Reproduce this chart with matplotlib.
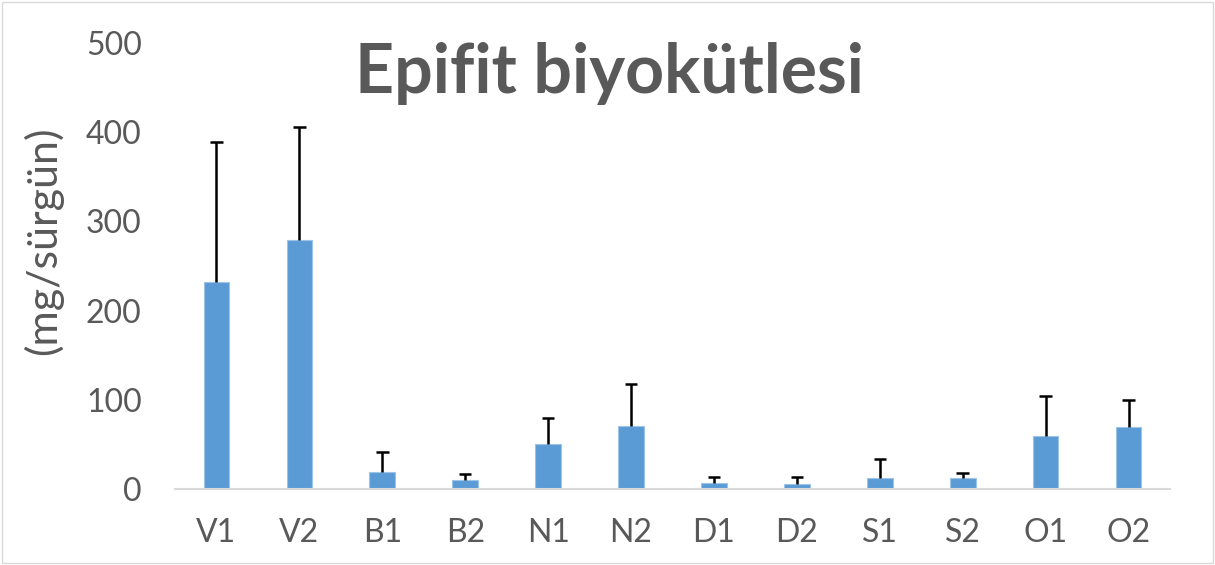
import matplotlib
matplotlib.use("Agg")
import matplotlib.pyplot as plt
import numpy as np

categories = ["V1", "V2", "B1", "B2", "N1", "N2", "D1", "D2", "S1", "S2", "O1", "O2"]
values = [232, 279, 19, 10, 50, 71, 7, 6, 12, 12, 59, 69]
errors = [157, 127, 23, 7, 30, 47, 6, 8, 22, 6, 45, 31]
yticks = [0, 100, 200, 300, 400, 500]

plt.rcParams['font.family'] = ['Lato', 'DejaVu Sans']
gray = '#595959'

fig = plt.figure(figsize=(12.15, 5.65), dpi=100)
ax = fig.add_axes([175/1215, 1-489/565, (1170-175)/1215, (489-43)/565])
x = np.arange(len(categories))
vals = np.array(values, dtype=float)
errs = np.array(errors, dtype=float)
ax.bar(x, vals, width=0.31, color='#5B9BD5', edgecolor='#9DC3E6', linewidth=0.8, zorder=2)
ax.vlines(x, vals, vals + errs, colors='black', linewidth=1.8, zorder=3)
ax.hlines(vals + errs, x - 0.075, x + 0.075, colors='black', linewidth=1.8, zorder=3)
ax.set_xlim(-0.5, len(categories)-0.5)
ax.set_ylim(0, 500)
ax.set_yticks(yticks)
ax.set_xticks(x)
ax.set_xticklabels(categories)
for s in ['top', 'right', 'left']:
    ax.spines[s].set_visible(False)
ax.spines['bottom'].set_color('#D9D9D9')
ax.spines['bottom'].set_linewidth(1.5)
ax.tick_params(axis='both', length=0, labelsize=23, colors=gray)
ax.tick_params(axis='x', pad=21)
ax.tick_params(axis='y', pad=24)
ax.set_ylabel('(mg/sürgün)', fontsize=31, color=gray)
ax.yaxis.set_label_coords(-0.112, 0.556)
fig.text(0.502, 1-73/565, 'Epifit biyokütlesi', ha='center', va='center',
         fontsize=49, fontweight='bold', color=gray)
fig.patches.append(plt.Rectangle((0.002, 0.003), 0.996, 0.994, transform=fig.transFigure,
                                 fill=False, edgecolor='#D9D9D9', linewidth=1))
fig.savefig('out.png', dpi=100, facecolor='white')
